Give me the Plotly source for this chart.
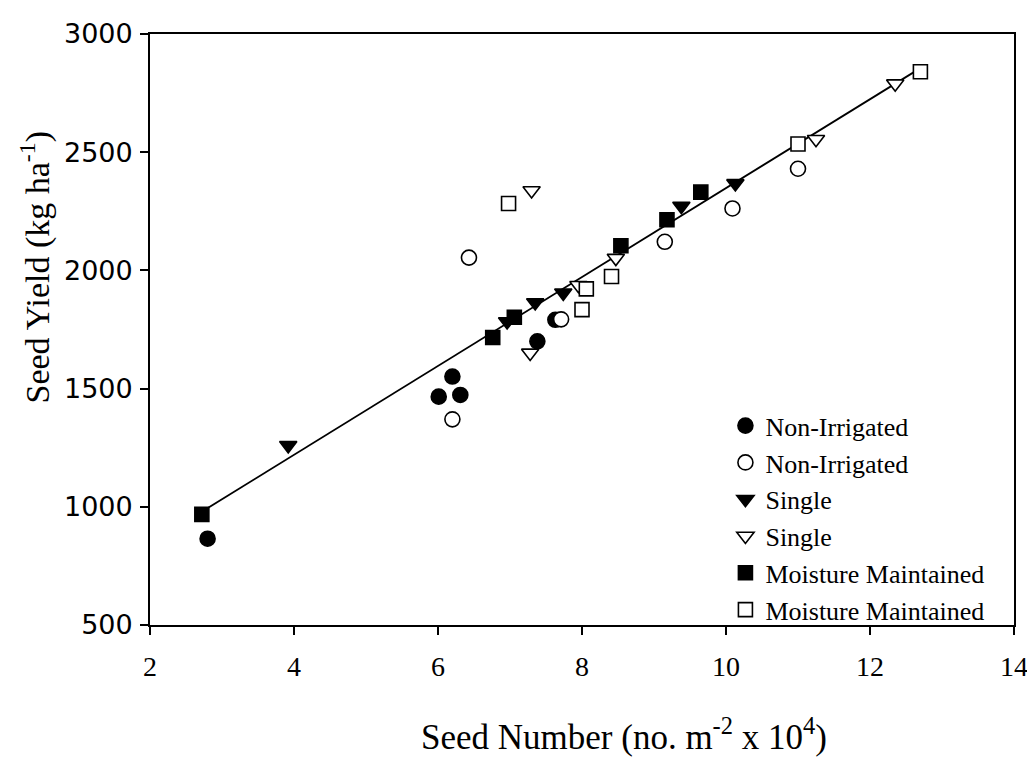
import plotly.graph_objects as go

# ---- data ----
ni_fill_x = [2.80, 6.01, 6.20, 6.31, 7.38, 7.63]
ni_fill_y = [865, 1466, 1551, 1473, 1700, 1791]
ni_open_x = [6.20, 6.43, 7.71, 9.15, 10.09, 11.00]
ni_open_y = [1370, 2054, 1793, 2121, 2262, 2430]

sg_fill_x = [3.92, 6.96, 7.35, 7.74, 9.38, 10.13]
sg_fill_y = [1260, 1784, 1864, 1905, 2272, 2368]
sg_open_x = [7.28, 7.30, 7.95, 8.47, 11.25, 12.35]
sg_open_y = [1651, 2338, 1937, 2052, 2555, 2790]

mm_fill_x = [2.72, 6.76, 7.06, 8.54, 9.18, 9.65]
mm_fill_y = [968, 1716, 1802, 2104, 2214, 2331]
mm_open_x = [6.98, 8.00, 8.06, 8.41, 11.00, 12.70]
mm_open_y = [2283, 1834, 1922, 1974, 2535, 2840]

fit_slope = 188.0
fit_intercept = 468.0

x_ticks = [2, 4, 6, 8, 10, 12, 14]
y_ticks = [500, 1000, 1500, 2000, 2500, 3000]

serif = "Liberation Serif"
sans = "DejaVu Sans"

fx = [min(mm_fill_x), max(mm_open_x)]
fy = [fit_intercept + fit_slope * v for v in fx]

fig = go.Figure()

fig.add_trace(go.Scatter(x=fx, y=fy, mode="lines", line=dict(color="black", width=1.8),
                         showlegend=False, hoverinfo="skip"))

series = [
    ("Non-Irrigated", ni_fill_x, ni_fill_y, "circle", True, 15),
    ("Non-Irrigated", ni_open_x, ni_open_y, "circle", False, 15),
    ("Single", sg_fill_x, sg_fill_y, "triangle-down", True, 15),
    ("Single", sg_open_x, sg_open_y, "triangle-down", False, 15),
    ("Moisture Maintained", mm_fill_x, mm_fill_y, "square", True, 14),
    ("Moisture Maintained", mm_open_x, mm_open_y, "square", False, 14),
]
for name, xs, ys, sym, filled, sz in series:
    fig.add_trace(go.Scatter(
        x=xs, y=ys, mode="markers", name=name,
        marker=dict(symbol=sym, size=sz,
                    color="black" if filled else "white",
                    line=dict(color="black", width=1.6)),
    ))

fig.update_layout(
    width=1035, height=759,
    paper_bgcolor="white", plot_bgcolor="white",
    margin=dict(l=142, r=29, t=10, b=142),
    font=dict(family=serif, size=28, color="black"),
    legend=dict(x=0.666, y=0.377, xanchor="left", yanchor="top",
                bgcolor="rgba(0,0,0,0)", borderwidth=0,
                font=dict(family=serif, size=26), tracegroupgap=0,
                itemsizing="trace"),
    xaxis=dict(range=[2, 14], tickvals=x_ticks, ticks="outside", ticklen=8,
               tickwidth=1.5, tickcolor="black", showline=True, linecolor="black",
               linewidth=1.8, mirror=True, showgrid=False, zeroline=False,
               tickfont=dict(family=serif, size=28), ticklabelstandoff=7,
               ticklabeloverflow="allow"),
    yaxis=dict(range=[500, 3000], tickvals=y_ticks, ticks="outside", ticklen=8,
               tickwidth=1.5, tickcolor="black", showline=True, linecolor="black",
               linewidth=1.8, mirror=True, showgrid=False, zeroline=False,
               tickfont=dict(family=sans, size=27), ticklabelstandoff=2,
               ticklabeloverflow="allow"),
    annotations=[
        dict(text="Seed Number (no. m<sup>-2</sup> x 10<sup>4</sup>)", xref="paper", yref="paper",
             x=0.549, y=-0.185, xanchor="center", yanchor="middle", showarrow=False,
             font=dict(family=serif, size=35)),
        dict(text="Seed Yield (kg ha<sup>-1</sup>)", xref="paper", yref="paper",
             x=-0.133, y=0.605, xanchor="center", yanchor="middle", showarrow=False,
             textangle=-90, font=dict(family=serif, size=34)),
    ],
)

fig.write_html("out.html")
